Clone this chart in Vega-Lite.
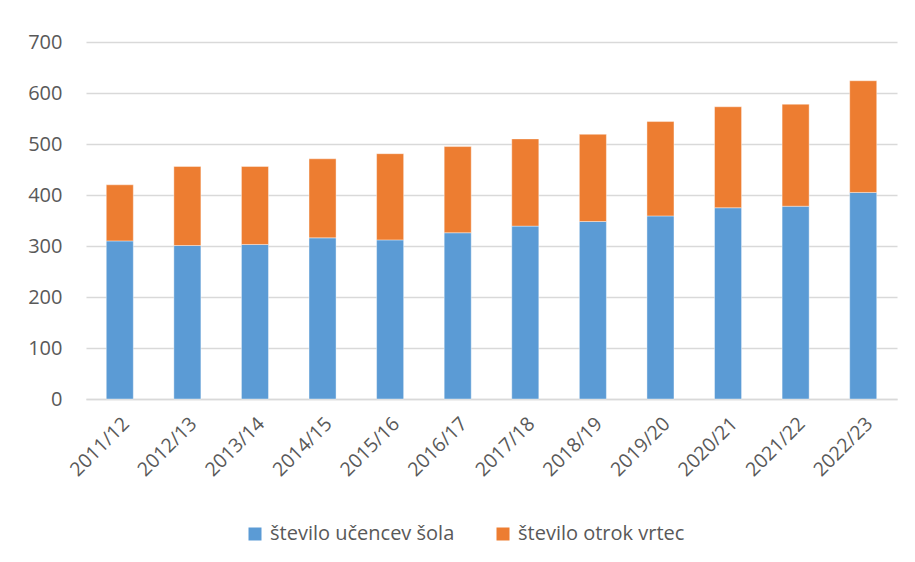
{
  "$schema": "https://vega.github.io/schema/vega-lite/v6.json",
  "width": 811,
  "height": 357,
  "autosize": {"type": "none"},
  "padding": {"left": 86, "top": 42, "right": 18, "bottom": 163},
  "background": "white",
  "data": {
    "values": [
      {"leto": "2011/12", "serija": "število učencev šola", "vrednost": 310, "red": 1},
      {"leto": "2012/13", "serija": "število učencev šola", "vrednost": 301, "red": 1},
      {"leto": "2013/14", "serija": "število učencev šola", "vrednost": 303, "red": 1},
      {"leto": "2014/15", "serija": "število učencev šola", "vrednost": 316, "red": 1},
      {"leto": "2015/16", "serija": "število učencev šola", "vrednost": 312, "red": 1},
      {"leto": "2016/17", "serija": "število učencev šola", "vrednost": 326, "red": 1},
      {"leto": "2017/18", "serija": "število učencev šola", "vrednost": 339, "red": 1},
      {"leto": "2018/19", "serija": "število učencev šola", "vrednost": 348, "red": 1},
      {"leto": "2019/20", "serija": "število učencev šola", "vrednost": 359, "red": 1},
      {"leto": "2020/21", "serija": "število učencev šola", "vrednost": 375, "red": 1},
      {"leto": "2021/22", "serija": "število učencev šola", "vrednost": 378, "red": 1},
      {"leto": "2022/23", "serija": "število učencev šola", "vrednost": 405, "red": 1},
      {"leto": "2011/12", "serija": "število otrok vrtec", "vrednost": 110, "red": 2},
      {"leto": "2012/13", "serija": "število otrok vrtec", "vrednost": 155, "red": 2},
      {"leto": "2013/14", "serija": "število otrok vrtec", "vrednost": 153, "red": 2},
      {"leto": "2014/15", "serija": "število otrok vrtec", "vrednost": 155, "red": 2},
      {"leto": "2015/16", "serija": "število otrok vrtec", "vrednost": 169, "red": 2},
      {"leto": "2016/17", "serija": "število otrok vrtec", "vrednost": 169, "red": 2},
      {"leto": "2017/18", "serija": "število otrok vrtec", "vrednost": 171, "red": 2},
      {"leto": "2018/19", "serija": "število otrok vrtec", "vrednost": 171, "red": 2},
      {"leto": "2019/20", "serija": "število otrok vrtec", "vrednost": 185, "red": 2},
      {"leto": "2020/21", "serija": "število otrok vrtec", "vrednost": 198, "red": 2},
      {"leto": "2021/22", "serija": "število otrok vrtec", "vrednost": 200, "red": 2},
      {"leto": "2022/23", "serija": "število otrok vrtec", "vrednost": 219, "red": 2}
    ]
  },
  "mark": {"type": "bar", "stroke": "white", "strokeOpacity": 0.4, "strokeWidth": 1},
  "encoding": {
    "x": {
      "field": "leto",
      "type": "nominal",
      "sort": null,
      "title": null,
      "scale": {"paddingInner": 0.6, "paddingOuter": 0.3},
      "axis": {
        "labelAngle": -45,
        "labelAlign": "right",
        "labelBaseline": "top",
        "labelFontSize": 19.5,
        "labelColor": "#595959",
        "labelFont": "Open Sans",
        "labelPadding": 15,
        "labelDx": -8,
        "ticks": false,
        "domainColor": "#D9D9D9",
        "domainWidth": 1.5
      }
    },
    "y": {
      "field": "vrednost",
      "type": "quantitative",
      "stack": "zero",
      "title": null,
      "scale": {"domain": [0, 700]},
      "axis": {
        "values": [0, 100, 200, 300, 400, 500, 600, 700],
        "labelFontSize": 20,
        "labelColor": "#595959",
        "labelFont": "Open Sans",
        "labelPadding": 24,
        "ticks": false,
        "domain": false,
        "gridColor": "#D9D9D9",
        "gridWidth": 1.5
      }
    },
    "color": {
      "field": "serija",
      "type": "nominal",
      "scale": {
        "domain": ["število učencev šola", "število otrok vrtec"],
        "range": ["#5B9BD5", "#ED7D31"]
      },
      "legend": {
        "title": null,
        "orient": "none",
        "direction": "horizontal",
        "legendX": 159,
        "legendY": 482,
        "symbolType": "square",
        "symbolSize": 169,
        "symbolStrokeWidth": 0,
        "labelFontSize": 20,
        "labelFont": "Open Sans",
        "labelColor": "#595959",
        "labelOffset": 5,
        "labelLimit": 400,
        "columnPadding": 38
      }
    },
    "order": {"field": "red", "type": "quantitative"}
  },
  "config": {
    "view": {"stroke": null},
    "font": "Open Sans"
  }
}
